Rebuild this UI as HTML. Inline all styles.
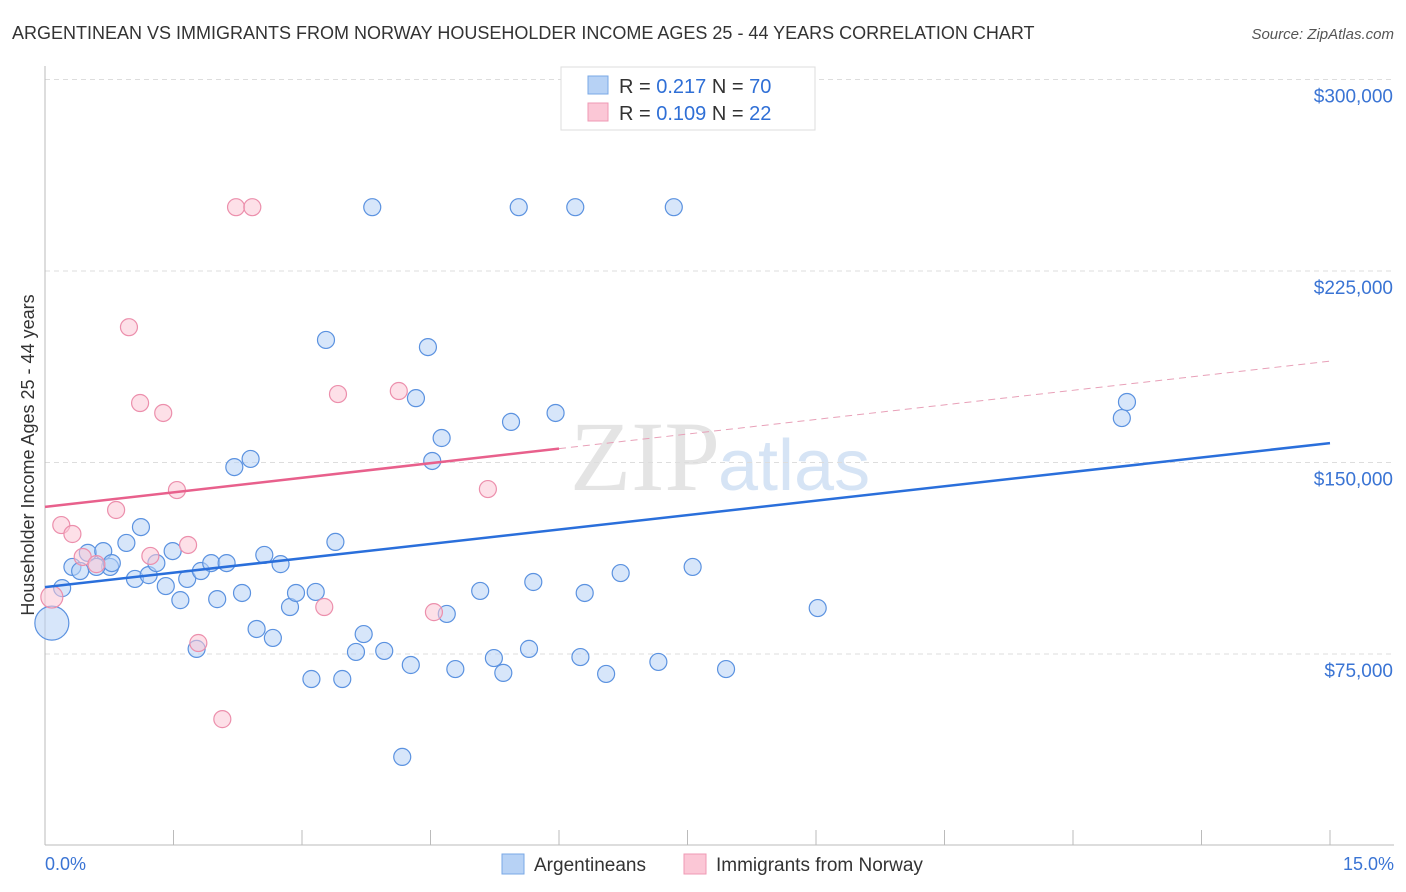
<!DOCTYPE html>
<html><head><meta charset="utf-8"><style>
body{margin:0;background:#fff;font-family:"Liberation Sans",sans-serif;}
#wrap{position:relative;width:1406px;height:892px;overflow:hidden;}
</style></head><body>
<div id="wrap">
<svg id="svg" width="1406" height="892" xmlns="http://www.w3.org/2000/svg">
<text x="12" y="39" font-size="18" fill="#333">ARGENTINEAN VS IMMIGRANTS FROM NORWAY HOUSEHOLDER INCOME AGES 25 - 44 YEARS CORRELATION CHART</text>
<text x="1394" y="39" font-size="15" fill="#555" font-style="italic" text-anchor="end">Source: ZipAtlas.com</text>
<text x="720" y="490" font-size="100" font-family="Liberation Serif,serif" fill="#e4e4e4" text-anchor="end">ZIP</text>
<text x="718" y="490" font-size="72" fill="#d6e4f5">atlas</text>
<text transform="translate(34,455) rotate(-90)" font-size="18" fill="#333" text-anchor="middle">Householder Income Ages 25 - 44 years</text>
<g id="grid"></g><g id="marks"></g>
<rect x="561" y="67" width="254" height="63" fill="#fff" stroke="#ddd"/>
<rect x="588" y="76" width="20" height="18" fill="#b7d2f5" stroke="#7aa8e6"/>
<rect x="588" y="103" width="20" height="18" fill="#fbc7d6" stroke="#ef9ab4"/>
<text x="619" y="93" font-size="20" fill="#333">R = <tspan fill="#2f6fd6">0.217</tspan>   N = <tspan fill="#2f6fd6">70</tspan></text>
<text x="619" y="120" font-size="20" fill="#333">R = <tspan fill="#2f6fd6">0.109</tspan>   N = <tspan fill="#2f6fd6"> 22</tspan></text>
<rect x="502" y="854" width="22" height="20" fill="#b7d2f5" stroke="#7aa8e6"/>
<text x="534" y="871" font-size="19" fill="#333">Argentineans</text>
<rect x="684" y="854" width="22" height="20" fill="#fbc7d6" stroke="#ef9ab4"/>
<text x="716" y="871" font-size="19" fill="#333">Immigrants from Norway</text>
<text x="45" y="870" font-size="18" fill="#3a74d4">0.0%</text>
<text x="1394" y="870" font-size="18" fill="#3a74d4" text-anchor="end">15.0%</text>
</svg></div>
<script>
const yTicks=[75000,150000,225000,300000];
const yTickLabels=["$75,000","$150,000","$225,000","$300,000"];
const blueX=[0.08,0.20,0.32,0.41,0.50,0.68,0.76,0.60,0.78,0.95,1.05,1.12,1.21,1.30,1.41,1.49,1.58,1.66,1.77,1.82,1.94,2.01,2.12,2.21,2.30,2.40,2.47,2.56,2.66,2.75,2.86,2.93,3.11,3.16,3.28,3.39,3.47,3.63,3.72,3.82,3.96,4.17,4.27,4.33,4.47,4.52,4.63,4.69,4.79,5.08,5.24,5.35,5.44,5.53,5.65,5.70,5.96,6.19,6.25,6.30,6.55,6.72,7.16,7.34,7.56,7.95,9.02,12.57,12.63];
const blueY=[87100,100800,109100,107500,114600,115300,109100,109100,110600,118500,104400,124700,105900,110600,101600,115300,96100,104400,77000,107500,110600,96500,110600,148200,98900,151400,84800,113800,81300,110200,93400,98900,65200,99300,198000,118900,65200,75800,82800,250000,76200,34700,70700,175200,195200,150600,159600,90700,69100,99700,73400,67600,165900,250000,77000,103200,169400,250000,73800,98900,67200,106700,71900,250000,109100,69100,93000,167400,173700];
const pinkX=[0.08,0.19,0.32,0.44,0.60,0.83,0.98,1.11,1.23,1.38,1.54,1.67,1.79,2.07,2.23,2.42,3.26,3.42,4.13,4.54,5.17];
const pinkY=[97300,125500,122000,113000,110200,131400,203000,173300,113400,169400,139200,117700,79300,49500,250000,250000,93400,176800,178000,91400,139600];
const blueTrend=[101200,157600];
const pinkTrend=[132600,189700];
const pinkSolidEnd=6;
const X=v=>45+v*1285/15, Y=v=>654-(v-75000)*191.5/75000;
const NS="http://www.w3.org/2000/svg";
const grid=document.getElementById('grid'), marks=document.getElementById('marks');
function mk(p,tag,a){const e=document.createElementNS(NS,tag);for(const k in a)e.setAttribute(k,a[k]);p.appendChild(e);return e;}
yTicks.forEach((t,i)=>{
 const l=mk(grid,'line',{x1:45,x2:1394,y1:Y(t),y2:Y(t),stroke:'#ddd','stroke-dasharray':'5,4'});
 
 
 const tx=mk(grid,'text',{x:1393,y:Y(t)+23,'font-size':19,fill:'#3a74d4','text-anchor':'end'});
 tx.textContent=yTickLabels[i];
 
 
});
const ax=mk(grid,'line',{x1:45,x2:45,y1:66,y2:845,stroke:'#bbb'});


const bx=mk(grid,'line',{x1:45,x2:1394,y1:845,y2:845,stroke:'#bbb'});


for(let i=1;i<=10;i++){const t=mk(grid,'line',{x1:X(i*1.5),x2:X(i*1.5),y1:830,y2:845,stroke:'#bbb'});
 
 }
function dot(x,y,r,c,s,n){const e=mk(marks,'circle',{cx:X(x),cy:Y(y),r:r,fill:c,'fill-opacity':0.55,stroke:s,'stroke-width':1.2});
 
 }
blueX.forEach((x,i)=>dot(x,blueY[i],i==0?17:8.5,'#b7d2f5','#5b92e0','argentinean-point'));
pinkX.forEach((x,i)=>dot(x,pinkY[i],i==0?11:8.5,'#fbc7d6','#ec8fac','norway-point'));
const bl=mk(marks,'line',{x1:X(0),y1:Y(blueTrend[0]),x2:X(15),y2:Y(blueTrend[1]),stroke:'#2a6fdb','stroke-width':2.5});


const pm=pinkTrend[0]+(pinkTrend[1]-pinkTrend[0])*pinkSolidEnd/15;
const pl=mk(marks,'line',{x1:X(0),y1:Y(pinkTrend[0]),x2:X(pinkSolidEnd),y2:Y(pm),stroke:'#e8608c','stroke-width':2.5});


const pd=mk(marks,'line',{x1:X(pinkSolidEnd),y1:Y(pm),x2:X(15),y2:Y(pinkTrend[1]),stroke:'#e8a0b8','stroke-width':1,'stroke-dasharray':'7,5'});


</script>
</body></html>
